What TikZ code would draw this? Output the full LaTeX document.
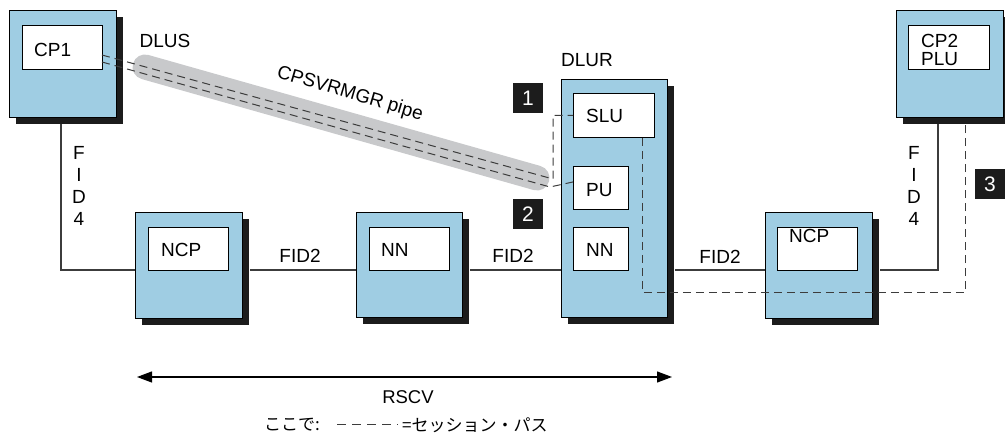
\documentclass[tikz,border=0pt]{standalone}
\usepackage{fontspec}
\setmainfont{Liberation Sans}
\newfontfamily\cjk{Noto Sans CJK JP}
\usetikzlibrary{shadows,arrows.meta}
\definecolor{boxblue}{RGB}{159,205,227}
\definecolor{pipegray}{RGB}{200,201,203}
\definecolor{shadowc}{RGB}{28,28,28}
\definecolor{linec}{RGB}{60,60,60}
\tikzset{
  blk/.style={draw=black, fill=boxblue, line width=0.9pt, anchor=north west, inner sep=0pt,
    drop shadow={shadow xshift=7pt, shadow yshift=-7pt, fill=shadowc, opacity=1}},
  inbox/.style={draw=black, fill=white, line width=0.9pt, anchor=north west, inner sep=0pt},
  lbl/.style={inner sep=0pt, font=\fontsize{19}{22}\selectfont},
  badge/.style={fill=shadowc, text=white, minimum width=30pt, minimum height=30pt, inner sep=0pt,
    font=\fontsize{21}{22}\selectfont},
  conn/.style={draw=linec, line width=1.1pt},
  sess/.style={draw=linec, line width=1pt, dash pattern=on 8pt off 5pt},
}
\begin{document}
\begin{tikzpicture}[x=1pt,y=-1pt]
\useasboundingbox (0,0) rectangle (1005,435);
% pipe
\coordinate (pA) at (145,67);
\coordinate (pB) at (537,178);
\draw[pipegray, line width=25pt, line cap=round] (pA) -- (pB);
% main line level
\coordinate (my) at (0,270);
% solid connectors (drawn below boxes)
\coordinate (c1) at (61,124);
\coordinate (c2) at (938,124);
\coordinate (nc1w) at (135,270);
\coordinate (nc1e) at (249,270);
\coordinate (nn1w) at (356,270);
\coordinate (nn1e) at (469,270);
\coordinate (dlw) at (561,270);
\coordinate (dle) at (674,270);
\coordinate (nc2w) at (765,270);
\coordinate (nc2e) at (879,270);
% outer boxes
\node[blk, minimum width=107pt, minimum height=107pt] (cp1) at (9,10) {};
\node[blk, minimum width=107pt, minimum height=106pt] (ncp1) at (135,212) {};
\node[blk, minimum width=106pt, minimum height=105pt] (nn1) at (356,212) {};
\node[blk, minimum width=106pt, minimum height=238pt] (dlur) at (561,79) {};
\node[blk, minimum width=107pt, minimum height=106pt] (ncp2) at (765,212) {};
\node[blk, minimum width=107pt, minimum height=107pt] (cp2) at (896,10) {};
\draw[conn] (c1) |- (ncp1.west |- my);
\draw[conn] ([xshift=7pt]ncp1.east |- my) -- (nn1.west |- my);
\draw[conn] ([xshift=7pt]nn1.east |- my) -- (dlur.west |- my);
\draw[conn] ([xshift=7pt]dlur.east |- my) -- (ncp2.west |- my);
\draw[conn] (c2) |- ([xshift=7pt]ncp2.east |- my);
% inner boxes
\node[inbox, minimum width=80pt, minimum height=44pt] (cp1in) at (22,25) {};
\node[inbox, minimum width=80pt, minimum height=43pt] (ncp1in) at (148,227) {};
\node[inbox, minimum width=80pt, minimum height=43pt] (nn1in) at (369,227) {};
\node[inbox, minimum width=81pt, minimum height=44pt] (slu) at (573,93) {};
\node[inbox, minimum width=55pt, minimum height=43pt] (pu) at (573,166) {};
\node[inbox, minimum width=55pt, minimum height=43pt] (nn2) at (573,227) {};
\node[inbox, minimum width=80pt, minimum height=43pt] (ncp2in) at (777,227) {};
\node[inbox, minimum width=81pt, minimum height=44pt] (cp2in) at (908,25) {};
% session paths
\coordinate (u0) at (102,55);
\coordinate (u1) at (553,179);
\coordinate (l0) at (102,62);
\coordinate (l1) at (550,187);
\draw[sess] (u0) -- (u1) -- (u1 |- slu.west) -- (slu.west);
\draw[sess] (l0) -- (l1) -- ([yshift=6pt]pu.west);
\coordinate (s3b) at (965,293);
\coordinate (s3c) at (965,124);
\draw[sess] ([xshift=-12pt]slu.south east) |- (s3b) -- (s3c);
% labels
\node[lbl, anchor=west] (tcp1) at (34,50) {CP1};
\node[lbl] (tdlus) at (165,41) {DLUS};
\node[lbl, rotate=-16.5] (tpipe) at (350,94) {CPSVRMGR pipe};
\node[lbl, anchor=west] (tncp1) at (161,250) {NCP};
\node[lbl] (tf1) at (300,256) {FID2};
\node[lbl, anchor=west] (tnn1) at (381,250) {NN};
\node[lbl] (tf2) at (513,256) {FID2};
\node[lbl] (tdlur) at (587,60) {DLUR};
\node[lbl, anchor=west] (tslu) at (586,116) {SLU};
\node[lbl, anchor=west] (tpu) at (586,190) {PU};
\node[lbl, anchor=west] (tnn2) at (586,250) {NN};
\node[lbl] (tf3) at (720,257) {FID2};
\node[lbl, anchor=west] (tncp2) at (789,236) {NCP};
\node[lbl, anchor=west, align=left, font=\fontsize{19}{18}\selectfont] (tcp2) at (921,50) {CP2\\PLU};
\node[lbl, align=center] (tfid4a) at (79,186) {F\\I\\D\\4};
\node[lbl, align=center] (tfid4b) at (914,186) {F\\I\\D\\4};
% badges
\node[badge] (b1) at (528,98) {1};
\node[badge] (b2) at (528,214) {2};
\node[badge] (b3) at (990,184) {3};
% RSCV arrow
\coordinate (rl) at (137,377);
\coordinate (rr) at (672,377);
\draw[line width=1.2pt, {Triangle[length=15pt,width=11pt]}-{Triangle[length=15pt,width=11pt]}] (rl) -- (rr);
\node[lbl, font=\fontsize{18.5}{22}\selectfont] (trscv) at (408,397) {RSCV};
% legend
\node[inner sep=0pt, anchor=west, font=\cjk\fontsize{17}{20}\selectfont] (lg1) at (264,425) {ここで:};
\coordinate (ld0) at (337,425);
\coordinate (ld1) at (398,425);
\draw[draw=linec, line width=1pt, dash pattern=on 9pt off 6pt] (ld0) -- (ld1);
\node[inner sep=0pt, anchor=west, font=\cjk\fontsize{17}{20}\selectfont] (lg2) at (402,425) {=セッション・パス};
\end{tikzpicture}
\end{document}
